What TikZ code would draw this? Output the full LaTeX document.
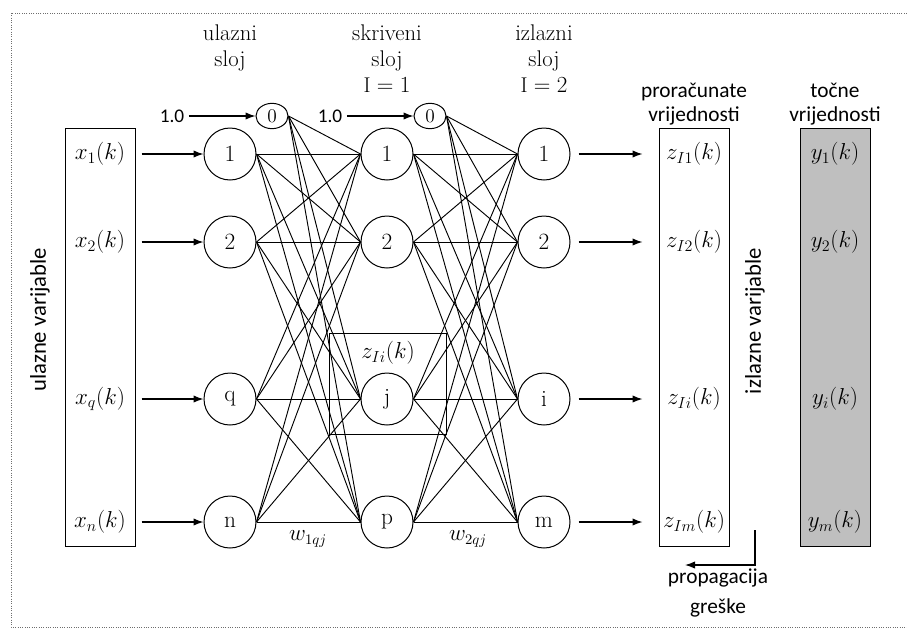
\documentclass[tikz,border=0pt]{standalone}
\usepackage{amsmath}
\usepackage{fontspec}
\newfontfamily\calfont{Carlito}
\usetikzlibrary{positioning,arrows,arrows.meta,shapes.geometric}
\definecolor{tocnagray}{RGB}{191,191,191}
\definecolor{ramgray}{RGB}{110,110,110}

\begin{document}
\begin{tikzpicture}[x=0.75pt,y=-0.75pt]

  \useasboundingbox (0,0) rectangle (907,629);
    \tikzstyle{neuron}=[circle,draw=black,line width=0.75pt,minimum size=39pt,inner sep=0pt,fill=white,font=\fontsize{17.5}{20}\selectfont]
    \tikzstyle{bias}=[ellipse,draw=black,line width=0.75pt,minimum width=24pt,minimum height=19pt,inner sep=0pt,fill=white,font=\fontsize{14.5}{16}\selectfont]
    \tikzstyle{varbox}=[draw=black,line width=0.75pt,minimum width=52.5pt,minimum height=314pt,inner sep=0pt]
    \tikzstyle{var}=[font=\fontsize{17.5}{20}\selectfont,inner sep=1pt]
    \tikzstyle{sloj}=[align=center,font=\fontsize{17}{19}\selectfont]
    \tikzstyle{sanslbl}=[align=center,font=\calfont\fontsize{16}{18}\selectfont]
    \tikzstyle{veza}=[line width=0.7pt]
    \tikzstyle{sig}=[-{Latex[length=7.5pt,width=5.5pt]},line width=0.9pt]

  % okvir
  \draw[densely dotted,ramgray,line width=0.75pt] (907,13) -- (11,13) -- (11,627) -- (907,627);

  % ulazne varijable
  \node[varbox] (xbox) at (100,337.5) {};
  \node[var] (x1) at (100,154) {$x_{1}(k)$};
  \node[var] (x2) at (100,242) {$x_{2}(k)$};
  \node[var] (xq) at (100,399) {$x_{q}(k)$};
  \node[var] (xn) at (100,522) {$x_{n}(k)$};
  \node[sanslbl,rotate=90,font=\calfont\fontsize{17}{18}\selectfont] (ulvar) at (40,320) {ulazne varijable};

  % slojevi
  \node (i1) at (230,154) [neuron] {1};
  \node (i2) at (230,242) [neuron] {2};
  \node (iq) at (230,399) [neuron] {q};
  \node (in) at (230,522) [neuron] {n};
  \node (h1) at (387,154) [neuron] {1};
  \node (h2) at (387,242) [neuron] {2};
  \node (hj) at (387,399) [neuron] {j};
  \node (hp) at (387,522) [neuron] {p};
  \node (o1) at (544,154) [neuron] {1};
  \node (o2) at (544,242) [neuron] {2};
  \node (oi) at (544,399) [neuron] {i};
  \node (om) at (544,522) [neuron] {m};
  \node (b1) at (272,116) [bias] {0};
  \node (b2) at (430,116) [bias] {0};
  \node[sanslbl,font=\calfont\fontsize{14.5}{16}\selectfont] (one1) at (172,116) {1.0};
  \node[sanslbl,font=\calfont\fontsize{14.5}{16}\selectfont] (one2) at (330,116) {1.0};

  % veze
  \foreach \a in {b1,i1,i2,iq,in}
    \foreach \b in {h1,h2,hj,hp}
      \draw[veza] (\a.east) -- (\b.west);
  \foreach \a in {b2,h1,h2,hj,hp}
    \foreach \b in {o1,o2,oi,om}
      \draw[veza] (\a.east) -- (\b.west);

  \draw[sig] (one1) -- (b1.west);
  \draw[sig] (one2) -- (b2.west);
  \foreach \x/\n in {x1/i1,x2/i2,xq/iq,xn/in}
    \draw[sig] ([xshift=4.5pt]xbox.east |- \x) -- (\n.west);

  % neuron j
  \draw[line width=0.75pt] (329,333) rectangle (446,434);
  \node[var] (zj) at (388,353) {$z_{Ii}(k)$};
  \node[var,font=\fontsize{16}{18}\selectfont] (w1) at (308,539) {$w_{1qj}$};
  \node[var,font=\fontsize{16}{18}\selectfont] (w2) at (468,539) {$w_{2qj}$};

  % naslovi slojeva
  \node[sloj] (tin) at (230,48) {ulazni\\sloj};
  \node[sloj] (thid) at (387,48) {skriveni\\sloj};
  \node[sloj] (tout) at (544,48) {izlazni\\sloj};
  \node[font=\fontsize{16}{18}\selectfont] (lhid) at (387,85) {$\mathrm{I}=1$};
  \node[font=\fontsize{16}{18}\selectfont] (lout) at (544,85) {$\mathrm{I}=2$};

  % izlazne varijable
  \node[varbox] (zbox) at (694,337.5) {};
  \node[varbox,fill=tocnagray] (ybox) at (835,337.5) {};
  \node[var] (z1) at (694,154) {$z_{I1}(k)$};
  \node[var] (z2) at (694,242) {$z_{I2}(k)$};
  \node[var] (zi) at (694,399) {$z_{Ii}(k)$};
  \node[var] (zm) at (694,522) {$z_{Im}(k)$};
  \node[var] (y1) at (835,154) {$y_{1}(k)$};
  \node[var] (y2) at (835,242) {$y_{2}(k)$};
  \node[var] (yi) at (835,399) {$y_{i}(k)$};
  \node[var] (ym) at (835,522) {$y_{m}(k)$};
  \foreach \o/\z in {o1/z1,o2/z2,oi/zi,om/zm}
    \draw[sig] ([xshift=6pt]\o.east) -- ([xshift=-12pt]zbox.west |- \z);
  \node[sanslbl] (tproc) at (694,104) {proračunate\\vrijednosti};
  \node[sanslbl] (ttoc) at (835,104) {točne\\vrijednosti};
  \node[sanslbl,rotate=90,font=\calfont\fontsize{17}{18}\selectfont] (izvar) at (755,321) {izlazne varijable};

  % propagacija greske
  \coordinate (perr) at (755,530);
  \coordinate (perrend) at (685,565);
  \draw[sig] (perr) |- (perrend);
  \node[sanslbl,font=\calfont\fontsize{16}{22}\selectfont] (tprop) at (718,593) {propagacija\\greške};
\end{tikzpicture}
\end{document}
